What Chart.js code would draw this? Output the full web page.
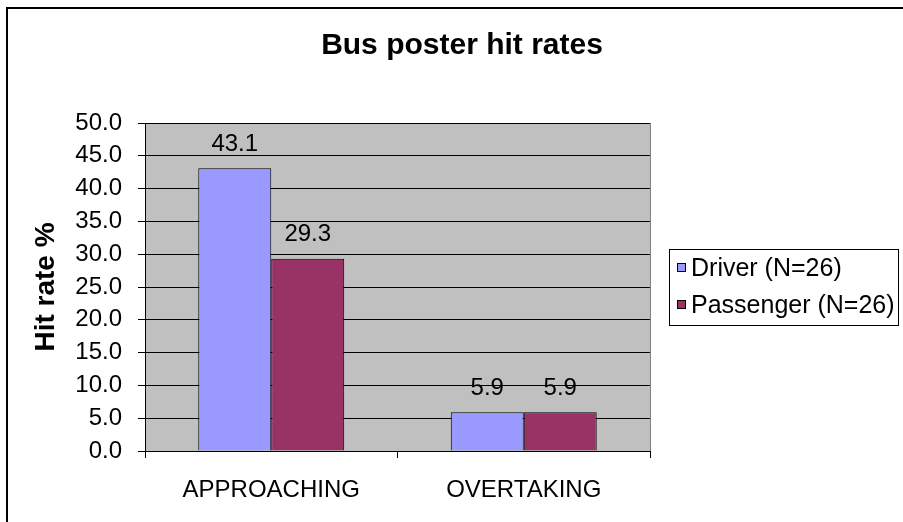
<!DOCTYPE html>
<html lang="en">
<head>
<meta charset="UTF-8" />
<title>Bus poster hit rates</title>
<script src="https://cdn.jsdelivr.net/npm/chart.js"></script>
<style>
  html, body { margin: 0; padding: 0; background: #fff; }
  canvas { display: block; }
</style>
</head>
<body>
<canvas id="chart" width="903" height="522"></canvas>
<script>
  const chartTitle = 'Bus poster hit rates';
  const yTitle = 'Hit rate %';
  const categories = ['APPROACHING', 'OVERTAKING'];
  const seriesNames = ['Driver (N=26)', 'Passenger (N=26)'];
  const driverRates = [43.1, 5.9];
  const passengerRates = [29.3, 5.9];
  const yMin = 0, yMax = 50, yStep = 5;

  const FONT = "'Liberation Sans', Arial, sans-serif";
  Chart.defaults.font.family = FONT;
  Chart.defaults.color = '#000';

  // white page, grey plot area and the top/left frame line
  const backdrop = {
    id: 'backdrop',
    beforeDraw(chart) {
      const { ctx, chartArea: a, width, height } = chart;
      ctx.save();
      ctx.fillStyle = '#fff';
      ctx.fillRect(0, 0, width, height);
      ctx.fillStyle = '#C0C0C0';
      ctx.fillRect(a.left, a.top, a.right - a.left, a.bottom - a.top);
      ctx.strokeStyle = '#000';
      ctx.lineWidth = 2;
      ctx.beginPath();
      ctx.moveTo(width, 8);
      ctx.lineTo(7, 8);
      ctx.lineTo(7, height);
      ctx.stroke();
      // title
      ctx.fillStyle = '#000';
      ctx.font = 'bold 30px ' + FONT;
      ctx.textAlign = 'center';
      ctx.textBaseline = 'middle';
      ctx.fillText(chartTitle, 462, 46);
      ctx.restore();
    }
  };

  // numbers above each bar
  const valueLabels = {
    id: 'valueLabels',
    afterDatasetsDraw(chart) {
      const { ctx } = chart;
      ctx.save();
      ctx.fillStyle = '#000';
      ctx.font = '24px ' + FONT;
      ctx.textAlign = 'center';
      ctx.textBaseline = 'middle';
      chart.data.datasets.forEach((ds, i) => {
        chart.getDatasetMeta(i).data.forEach((bar, j) => {
          ctx.fillText(ds.data[j].toFixed(1), bar.x, bar.y - 24);
        });
      });
      ctx.restore();
    }
  };

  // boxed legend on the right
  const boxLegend = {
    id: 'boxLegend',
    afterDraw(chart) {
      const { ctx } = chart;
      const left = 669, top = 249, w = 229, h = 76;
      ctx.save();
      ctx.strokeStyle = '#000';
      ctx.lineWidth = 1;
      ctx.strokeRect(left + 0.5, top + 0.5, w, h);
      ctx.font = '25px ' + FONT;
      ctx.textBaseline = 'middle';
      ctx.textAlign = 'left';
      chart.data.datasets.forEach((ds, i) => {
        const cy = top + 18 + i * 37;
        ctx.fillStyle = ds.backgroundColor;
        ctx.fillRect(677, cy - 4, 9, 9);
        ctx.strokeRect(677.5, cy - 3.5, 8, 8);
        ctx.fillStyle = '#000';
        ctx.fillText(ds.label, 691, cy + 2);
      });
      ctx.restore();
    }
  };

  new Chart(document.getElementById('chart'), {
    type: 'bar',
    data: {
      labels: categories,
      datasets: [
        { label: seriesNames[0], data: driverRates, backgroundColor: '#9999FF' },
        { label: seriesNames[1], data: passengerRates, backgroundColor: '#993366' }
      ]
    },
    options: {
      responsive: false,
      animation: false,
      events: [],
      layout: { padding: { left: 0, top: 123, right: 253, bottom: 0 } },
      datasets: {
        bar: {
          borderColor: '#000',
          borderWidth: 1,
          categoryPercentage: 0.578,
          barPercentage: 1
        }
      },
      plugins: {
        legend: { display: false },
        tooltip: { enabled: false },
        title: { display: false }
      },
      scales: {
        x: {
          ticks: { font: { size: 24 }, padding: 18, color: '#000' },
          grid: {
            offset: true,
            drawOnChartArea: true,
            color: ctx => ctx.type === 'scale' ? '#808080' : 'rgba(0,0,0,0)',
            tickColor: '#000',
            tickLength: 7
          },
          border: { color: '#000', width: 1 },
          afterFit: s => { s.height = 71; }
        },
        y: {
          min: yMin,
          max: yMax,
          ticks: {
            stepSize: yStep,
            font: { size: 24 },
            padding: 16,
            color: '#000',
            callback: v => v.toFixed(1)
          },
          grid: { color: '#000', tickColor: '#000', tickLength: 7, lineWidth: 1 },
          border: { color: '#000', width: 1 },
          title: {
            display: true,
            text: yTitle,
            color: '#000',
            font: { size: 28, weight: 'bold' },
            padding: { top: 29, bottom: 0 }
          },
          afterFit: s => { s.width = 145; }
        }
      }
    },
    plugins: [backdrop, valueLabels, boxLegend]
  });
</script>
</body>
</html>
